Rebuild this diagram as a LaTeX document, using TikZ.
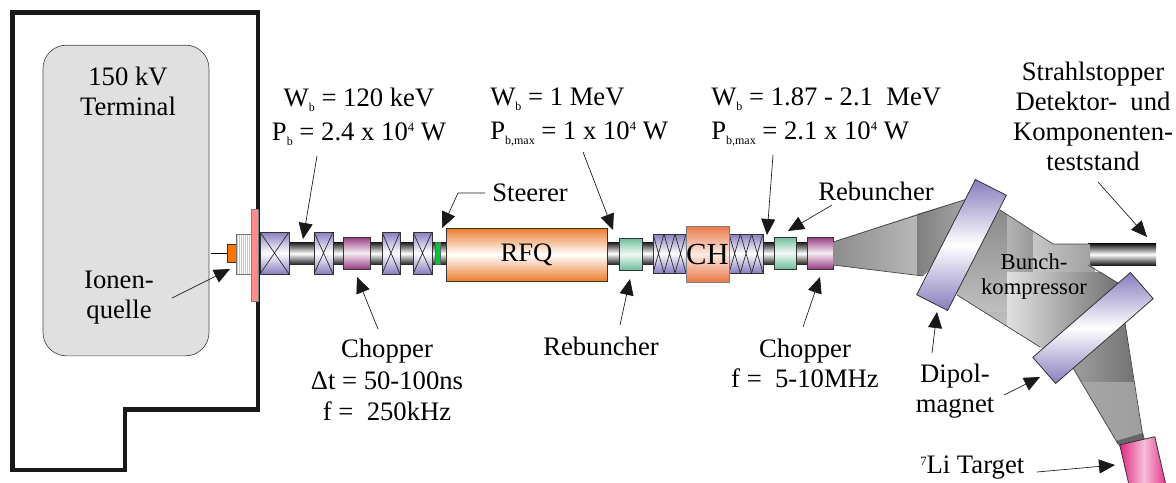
\documentclass[tikz,border=0pt]{standalone}
\usepackage{fontspec}
\setmainfont{Liberation Serif}
\usetikzlibrary{arrows.meta,calc}

\definecolor{magnetblue}{RGB}{135,125,190}
\definecolor{chopperred}{RGB}{150,60,130}
\definecolor{buncherteal}{RGB}{110,190,155}
\definecolor{rfqorange}{RGB}{235,125,45}
\definecolor{chorange}{RGB}{235,120,70}
\definecolor{targetpink}{RGB}{225,40,130}

\newcommand{\subtxt}[1]{\raisebox{-4pt}{\fontsize{9}{9}\selectfont #1}}
\newcommand{\suptxt}[1]{\raisebox{6.5pt}{\fontsize{9.5}{9.5}\selectfont #1}}

\tikzset{
    label/.style={font=\fontsize{20}{22.5}\selectfont, align=center, inner sep=0pt},
    labelleft/.style={font=\fontsize{20}{25.5}\selectfont, align=left, inner sep=0pt},
    pointer/.style={-{Triangle[length=12pt,width=10.5pt]}, line width=0.5pt, black!90},
    part/.style={draw=black!80, line width=0.6pt, inner sep=0pt, outer sep=0pt},
    pipe/.style={part, draw=none, top color=black!90, bottom color=black!90, middle color=white},
    chopper/.style={part, top color=chopperred, bottom color=chopperred, middle color=white!90!chopperred},
    buncher/.style={part, top color=buncherteal, bottom color=buncherteal, middle color=white!90!buncherteal},
    magnet/.style={part, top color=magnetblue, bottom color=magnetblue, middle color=white,
        path picture={
            \foreach \i in {1,...,#1}{
                \draw[black!85, line width=0.5pt]
                    ($(path picture bounding box.north west)!{(\i-1)/#1}!(path picture bounding box.north east)$) --
                    ($(path picture bounding box.south west)!{\i/#1}!(path picture bounding box.south east)$)
                    ($(path picture bounding box.north west)!{\i/#1}!(path picture bounding box.north east)$) --
                    ($(path picture bounding box.south west)!{(\i-1)/#1}!(path picture bounding box.south east)$);
            }
        }},
    dipole/.style={part, top color=magnetblue, bottom color=magnetblue, middle color=white,
        minimum width=26pt, minimum height=97pt},
}

\begin{document}
\begin{tikzpicture}[x=0.75pt,y=-0.75pt]

    \useasboundingbox (0,0) rectangle (1176,482);
    \clip (0,0) rectangle (1176,482);

    % terminal housing
    \draw[line width=3.2pt, black!90] (12.5,12.5) -- (258,12.5) -- (258,409.5) -- (125,409.5) -- (125,470) -- (12.5,470) -- cycle;
    \node[draw=black!70, line width=0.5pt, fill=black!12, rounded corners=17.5pt, minimum width=124.5pt, minimum height=233pt, inner sep=0pt] (terminal) at (126,200.5) {};
    \node[label] (terminalText) at (128,91) {150 kV\\Terminal};
    \node[label] (ionText) at (119,298) {Ionen-\\quelle};

    % ion source
    \coordinate (ionFeed) at (211,253);
    \node[part, fill=orange!90!red, minimum width=6.75pt, minimum height=13.5pt] (ionSource) at (231.5,253) {};
    \draw[line width=0.5pt] (ionFeed) -- (ionSource.west);
    \node[part, draw=black!55, fill=black!22, minimum width=12pt, minimum height=30pt,
        path picture={\foreach \k in {1,...,7}{\draw[white, line width=0.4pt] ($(path picture bounding box.north west)+(\k*1.5pt,0)$) -- ++(0,-31pt);}}] (insulator) at (244,254) {};
    \node[part, draw=black!50, fill=red!45!white, minimum width=5.25pt, minimum height=69pt] (flange) at (254.5,255) {};

    % beam pipes
    \node[pipe, minimum width=118.5pt, minimum height=17pt] (pipeLeft) at (368,253.5) {};
    \node[pipe, minimum width=169.5pt, minimum height=17pt] (pipeRight) at (720,253.5) {};
    \node[pipe, minimum width=51pt, minimum height=16pt] (pipeStop) at (1122,254.5) {};

    % low energy section
    \node[magnet=1, minimum width=21.75pt, minimum height=31.5pt] (solenoidA) at (274.5,253) {};
    \node[magnet=1, minimum width=14.25pt, minimum height=31.5pt] (solenoidB) at (323.5,253) {};
    \node[chopper, minimum width=20.25pt, minimum height=24pt] (chopperA) at (356.5,253) {};
    \node[magnet=1, minimum width=13.5pt, minimum height=31.5pt] (solenoidC) at (391,253) {};
    \node[magnet=1, minimum width=14.25pt, minimum height=31.5pt] (solenoidD) at (422.5,253) {};
    \node[part, draw=black!60, fill=green!55!teal, minimum width=3.75pt, minimum height=16pt] (steererCoil) at (437.5,253.5) {};

    % RFQ
    \node[part, top color=rfqorange, bottom color=rfqorange, middle color=white, minimum width=120.75pt, minimum height=39.75pt, font=\fontsize{20}{22}\selectfont] (rfq) at (526.5,254.5) {RFQ};
    \node[buncher, minimum width=17.25pt, minimum height=24pt] (buncherA) at (630.5,254) {};

    % CH section
    \node[magnet=3, minimum width=24.75pt, minimum height=29.25pt] (tripletA) at (669.5,253.5) {};
    \node[magnet=3, minimum width=25.5pt, minimum height=29.25pt] (tripletB) at (746,253.5) {};
    \node[part, draw=black!50, top color=chorange, bottom color=chorange, middle color=white!85!chorange, minimum width=32.25pt, minimum height=42pt, font=\fontsize{23}{24}\selectfont] (ch) at (707.5,254) {CH};
    \node[buncher, minimum width=16.5pt, minimum height=24pt] (buncherB) at (785,253) {};
    \node[chopper, minimum width=19.5pt, minimum height=24pt] (chopperB) at (820,253) {};

    % first drift to dipole
    \shade[left color=black!45, right color=black!28] (833,242) -- (917,214) -- (917,275) -- (833,265) -- cycle;
    \shade[left color=black!50, right color=black!35] (917,214) -- (967,199) -- (950,250) -- (923,276) -- (917,275) -- cycle;
    \draw[black!75, line width=0.5pt] (833,242) -- (967,199) (833,265) -- (923,276);

    % bunch compressor
    \begin{scope}
        \clip (1000,210) -- (1053,244) -- (1090,244) -- (1090,265) -- (1118,283) -- (1060,360) -- (1040,347) -- (957,295) -- (965,240) -- cycle;
        \shade[top color=black!48, bottom color=black!25] (950,200) rectangle (1007,312);
        \shade[top color=black!28, bottom color=black!12] (950,312) rectangle (1007,360);
        \shade[left color=black!30, right color=black!40] (1007,200) rectangle (1033,272);
        \shade[left color=black!22, right color=black!38] (1033,200) rectangle (1095,272);
        \shade[shading angle=60, left color=black!12, right color=black!58] (1007,272) rectangle (1125,370);
    \end{scope}
    \draw[black!75, line width=0.5pt] (1000,210) -- (1053,244) -- (1090,244) (1088,265) -- (1118,283) (957,295) -- (1040,347);

    % drift to target
    \shade[left color=black!38, right color=black!55] (1125,323) -- (1134,382) -- (1081,382) -- (1073,368) -- (1090,340) -- cycle;
    \shade[left color=black!35, right color=black!38] (1081,382) -- (1134,382) -- (1143,437) -- (1118,444) -- cycle;
    \fill[black!60] (1116,441) -- (1143,433) -- (1145,440) -- (1120,447) -- cycle;
    \draw[black!75, line width=0.5pt] (1125,323) -- (1143,437) (1073,368) -- (1118,444);

    % dipoles and target
    \node[dipole, rotate=-27] (dipoleA) at (961.5,245) {};
    \node[dipole, rotate=-49] (dipoleB) at (1093,328) {};
    \node[part, left color=targetpink, right color=targetpink, middle color=white!70!targetpink, rotate=13, minimum width=27pt, minimum height=45pt] (target) at (1144,470) {};

    % compressor text
    \node[label, font=\fontsize{17}{18.75}\selectfont] (bunchText) at (1034,277) {Bunch-\\kompressor};

    % beam labels
    \node[label, font=\fontsize{20}{25.5}\selectfont] (wbA) at (359,117) {W\subtxt{b} = 120 keV\\P\subtxt{b} = 2.4 x 10\suptxt{4} W};
    \node[labelleft, anchor=west] (wbB) at (490,117) {W\subtxt{b} = 1 MeV\\P\subtxt{b,max} = 1 x 10\suptxt{4} W};
    \node[labelleft, anchor=west] (wbC) at (711,117) {W\subtxt{b} = 1.87 - 2.1~~MeV\\P\subtxt{b,max} = 2.1 x 10\suptxt{4} W};
    \node[label, anchor=west] (steererText) at (492,193) {Steerer};
    \node[label] (rebuncherTop) at (876,191) {Rebuncher};
    \node[label] (stopText) at (1093,116) {Strahlstopper\\Detektor-~~und\\Komponenten-\\teststand};
    \node[label, font=\fontsize{20}{23.5}\selectfont] (chopperTextA) at (387,380) {Chopper\\Δt = 50-100ns\\f =~~250kHz};
    \node[label] (rebuncherBottom) at (601,346) {Rebuncher};
    \node[label] (chopperTextB) at (805,363) {Chopper\\f =~~5-10MHz};
    \node[label] (dipolText) at (955,391) {Dipol-\\magnet};
    \node[label, anchor=west] (targetText) at (920,468) {\suptxt{7}Li Target};

    % arrows
    \coordinate (wbATail) at (317,156);
    \coordinate (wbATip) at (303,239);
    \draw[pointer] (wbATail) -- (wbATip);
    \coordinate (chopperATail) at (378,329);
    \coordinate (chopperATip) at (357,277);
    \draw[pointer] (chopperATail) -- (chopperATip);
    \coordinate (ionTail) at (172,298);
    \coordinate (ionTip) at (230,269);
    \draw[pointer] (ionTail) -- (ionTip);
    \coordinate (steererTail) at (485,193);
    \coordinate (steererBend) at (458,193);
    \coordinate (steererTip) at (442,228);
    \draw[pointer] (steererTail) -- (steererBend) -- (steererTip);
    \coordinate (wbBTail) at (583,152);
    \coordinate (wbBTip) at (613,230);
    \draw[pointer] (wbBTail) -- (wbBTip);
    \coordinate (wbCTail) at (773,155);
    \coordinate (wbCTip) at (767,235);
    \draw[pointer] (wbCTail) -- (wbCTip);
    \coordinate (rebuncherATail) at (832,205);
    \coordinate (rebuncherATip) at (788,231);
    \draw[pointer] (rebuncherATail) -- (rebuncherATip);
    \coordinate (rebuncherBTail) at (620,325);
    \coordinate (rebuncherBTip) at (630,279);
    \draw[pointer] (rebuncherBTail) -- (rebuncherBTip);
    \coordinate (chopperBTail) at (803,327);
    \coordinate (chopperBTip) at (820,277);
    \draw[pointer] (chopperBTail) -- (chopperBTip);
    \coordinate (dipoleATail) at (932,353);
    \coordinate (dipoleATip) at (937,312);
    \draw[pointer] (dipoleATail) -- (dipoleATip);
    \coordinate (dipoleBTail) at (1004,395);
    \coordinate (dipoleBTip) at (1040,377);
    \draw[pointer] (dipoleBTail) -- (dipoleBTip);
    \coordinate (targetTail) at (1037,472);
    \coordinate (targetTip) at (1115,465);
    \draw[pointer] (targetTail) -- (targetTip);
    \coordinate (stopTail) at (1098,182);
    \coordinate (stopTip) at (1147,237);
    \draw[pointer] (stopTail) -- (stopTip);

\end{tikzpicture}
\end{document}
